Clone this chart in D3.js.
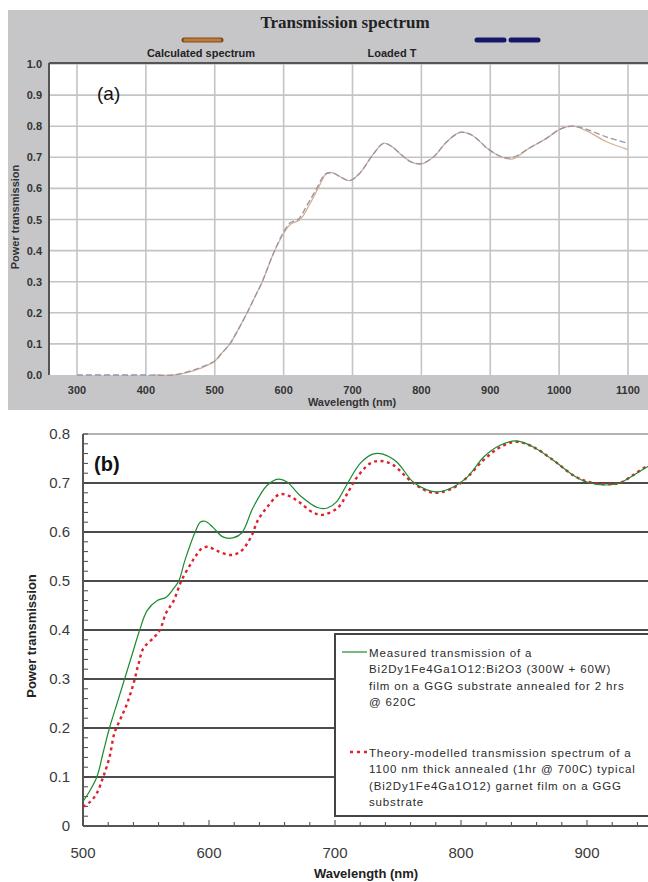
<!DOCTYPE html>
<html>
<head>
<meta charset="utf-8">
<script src="https://cdn.jsdelivr.net/npm/d3@7"></script>
<style>
  html, body { margin: 0; padding: 0; background: #ffffff; }
  svg { display: block; }
</style>
</head>
<body>
<svg id="chart" width="648" height="882"></svg>
<script>
// ---- Panel (a): transmission spectrum, calculated vs loaded ----
const aTitle = "Transmission spectrum";
const aLegend = ["Calculated spectrum", "Loaded T"];
const aXTicks = [300, 400, 500, 600, 700, 800, 900, 1000, 1100];
const aYTicks = [0, 0.1, 0.2, 0.3, 0.4, 0.5, 0.6, 0.7, 0.8, 0.9, 1.0];

const loadedWl = [300, 350, 400, 440, 460, 480, 500, 510, 522, 535, 547, 558, 569, 585, 600, 610, 621, 635, 648, 660, 670, 684, 696, 711, 730, 745, 757, 770, 785, 800, 817, 837, 856, 870, 883, 895, 918, 933, 957, 981, 1001, 1020, 1040, 1069, 1100];
const loadedT  = [0, 0, 0, 0, 0.01, 0.025, 0.045, 0.07, 0.10, 0.15, 0.20, 0.25, 0.30, 0.39, 0.46, 0.49, 0.50, 0.55, 0.60, 0.645, 0.65, 0.635, 0.625, 0.65, 0.71, 0.745, 0.735, 0.71, 0.685, 0.68, 0.70, 0.75, 0.78, 0.775, 0.755, 0.73, 0.70, 0.70, 0.73, 0.76, 0.79, 0.80, 0.79, 0.765, 0.745];

const calcWl = [410, 440, 460, 480, 500, 510, 522, 535, 547, 558, 569, 585, 600, 610, 624, 638, 650, 663, 672, 684, 696, 711, 730, 745, 757, 770, 785, 800, 817, 837, 856, 870, 883, 895, 918, 933, 957, 981, 1001, 1020, 1040, 1069, 1100];
const calcT  = [0, 0, 0.008, 0.022, 0.045, 0.07, 0.10, 0.15, 0.20, 0.25, 0.30, 0.39, 0.455, 0.485, 0.50, 0.55, 0.60, 0.65, 0.65, 0.635, 0.625, 0.65, 0.71, 0.745, 0.735, 0.71, 0.685, 0.678, 0.70, 0.75, 0.78, 0.775, 0.755, 0.73, 0.70, 0.695, 0.73, 0.76, 0.79, 0.80, 0.785, 0.75, 0.725];

// ---- Panel (b): measured vs theory-modelled transmission ----
const bXTicks = [500, 600, 700, 800, 900];
const bYTicks = [0, 0.1, 0.2, 0.3, 0.4, 0.5, 0.6, 0.7, 0.8];
const bYTickLabels = ["0", "0.1", "0.2", "0.3", "0.4", "0.5", "0.6", "0.7", "0.8"];

const measuredWl = [500, 505, 511, 516, 521, 527, 533, 539, 545, 551, 559, 566, 572, 576, 581, 589, 593, 597, 603, 611, 619, 626, 635, 646, 655, 662, 672, 686, 694, 701, 709, 720, 730, 738, 749, 762, 773, 781, 794, 805, 818, 831, 844, 857, 873, 889, 900, 913, 926, 937, 948, 960];
const measuredT  = [0.05, 0.07, 0.10, 0.15, 0.20, 0.25, 0.30, 0.35, 0.40, 0.44, 0.46, 0.467, 0.485, 0.50, 0.543, 0.60, 0.62, 0.622, 0.61, 0.59, 0.588, 0.598, 0.65, 0.695, 0.708, 0.702, 0.675, 0.65, 0.649, 0.661, 0.695, 0.74, 0.759, 0.759, 0.743, 0.702, 0.686, 0.682, 0.692, 0.712, 0.753, 0.777, 0.786, 0.774, 0.747, 0.716, 0.702, 0.696, 0.70, 0.716, 0.733, 0.75];

const theoryWl = [500, 506, 511, 516, 521, 525, 530, 535, 540, 544, 548, 556, 561, 566, 572, 578, 586, 590, 594, 599, 606, 617, 625, 633, 639, 646, 656, 664, 672, 683, 690, 702, 709, 717, 728, 736, 746, 762, 778, 794, 805, 818, 831, 844, 857, 873, 889, 900, 913, 926, 937, 948, 960];
const theoryT  = [0.039, 0.05, 0.067, 0.10, 0.14, 0.19, 0.22, 0.25, 0.29, 0.33, 0.363, 0.384, 0.40, 0.435, 0.46, 0.50, 0.537, 0.553, 0.566, 0.57, 0.562, 0.553, 0.56, 0.588, 0.625, 0.65, 0.677, 0.673, 0.66, 0.639, 0.635, 0.649, 0.675, 0.71, 0.74, 0.745, 0.737, 0.70, 0.68, 0.69, 0.712, 0.747, 0.773, 0.784, 0.774, 0.747, 0.716, 0.703, 0.698, 0.70, 0.717, 0.735, 0.75];

const bLegend = [
  ["Measured transmission of a",
   "Bi2Dy1Fe4Ga1O12:Bi2O3 (300W + 60W)",
   "film on a GGG substrate annealed for 2 hrs",
   "@ 620C"],
  ["Theory-modelled transmission spectrum of a",
   "1100 nm thick annealed (1hr @ 700C) typical",
   "(Bi2Dy1Fe4Ga1O12) garnet film on a GGG",
   "substrate"]
];

const svg = d3.select("#chart");
const W = 648;

// ================= Panel (a) =================
const a = svg.append("g");
a.append("rect").attr("x", 8).attr("y", 10).attr("width", W - 8).attr("height", 400)
  .attr("fill", "#c6c6c9");

const aPlot = { left: 49, top: 63, right: W, bottom: 375 };
a.append("rect").attr("x", aPlot.left).attr("y", aPlot.top)
  .attr("width", aPlot.right - aPlot.left).attr("height", aPlot.bottom - aPlot.top)
  .attr("fill", "#ffffff");

const xA = d3.scaleLinear().domain([300, 1100]).range([77, 628]);
const yA = d3.scaleLinear().domain([0, 1]).range([375, 64]);

// grid
a.append("g").selectAll("line").data(aYTicks.slice(1)).join("line")
  .attr("x1", aPlot.left).attr("x2", aPlot.right)
  .attr("y1", d => yA(d)).attr("y2", d => yA(d))
  .attr("stroke", "#c4c4c4").attr("stroke-width", 1.6);
a.append("g").selectAll("line").data(aXTicks).join("line")
  .attr("x1", d => xA(d)).attr("x2", d => xA(d))
  .attr("y1", aPlot.top).attr("y2", aPlot.bottom)
  .attr("stroke", "#c4c4c4").attr("stroke-width", 1.6);

// frame
a.append("line").attr("x1", aPlot.left).attr("x2", aPlot.right)
  .attr("y1", aPlot.top).attr("y2", aPlot.top).attr("stroke", "#555").attr("stroke-width", 2);
a.append("line").attr("x1", aPlot.left).attr("x2", aPlot.left)
  .attr("y1", aPlot.top).attr("y2", aPlot.bottom).attr("stroke", "#555").attr("stroke-width", 2);

// tick labels
a.append("g").selectAll("text").data(aYTicks).join("text")
  .attr("x", 42).attr("y", d => yA(d) + 4)
  .attr("text-anchor", "end")
  .attr("font-family", "Liberation Sans, Arial, sans-serif")
  .attr("font-weight", "bold").attr("font-size", 11).attr("fill", "#333")
  .text(d => d3.format(".1f")(d));
a.append("g").selectAll("text").data(aXTicks).join("text")
  .attr("x", d => xA(d)).attr("y", 394)
  .attr("text-anchor", "middle")
  .attr("font-family", "Liberation Sans, Arial, sans-serif")
  .attr("font-weight", "bold").attr("font-size", 11).attr("fill", "#333")
  .text(d => d);

a.append("text").attr("x", 352).attr("y", 406).attr("text-anchor", "middle")
  .attr("font-family", "Liberation Sans, Arial, sans-serif")
  .attr("font-weight", "bold").attr("font-size", 11).attr("fill", "#333")
  .text("Wavelength (nm)");
a.append("text").attr("transform", "translate(19,217) rotate(-90)").attr("text-anchor", "middle")
  .attr("font-family", "Liberation Sans, Arial, sans-serif")
  .attr("font-weight", "bold").attr("font-size", 11).attr("fill", "#333")
  .text("Power transmission");

// title and legend
a.append("text").attr("x", 345).attr("y", 28).attr("text-anchor", "middle")
  .attr("font-family", "Liberation Serif, Times New Roman, serif")
  .attr("font-weight", "bold").attr("font-size", 17).attr("fill", "#222")
  .text(aTitle);
a.append("line").attr("x1", 184).attr("x2", 221).attr("y1", 40).attr("y2", 40)
  .attr("stroke", "#7a4a1c").attr("stroke-width", 5).attr("stroke-linecap", "round");
a.append("line").attr("x1", 185).attr("x2", 220).attr("y1", 40).attr("y2", 40)
  .attr("stroke", "#c07a3a").attr("stroke-width", 3).attr("stroke-linecap", "round");
a.append("line").attr("x1", 477).attr("x2", 540).attr("y1", 40).attr("y2", 40)
  .attr("stroke", "#17176a").attr("stroke-width", 5).attr("stroke-linecap", "round")
  .attr("stroke-dasharray", "27,7");
a.append("text").attr("x", 201).attr("y", 57).attr("text-anchor", "middle")
  .attr("font-family", "Liberation Sans, Arial, sans-serif")
  .attr("font-weight", "bold").attr("font-size", 11).attr("fill", "#222")
  .text(aLegend[0]);
a.append("text").attr("x", 392).attr("y", 57).attr("text-anchor", "middle")
  .attr("font-family", "Liberation Sans, Arial, sans-serif")
  .attr("font-weight", "bold").attr("font-size", 11).attr("fill", "#222")
  .text(aLegend[1]);

a.append("text").attr("x", 97).attr("y", 100)
  .attr("font-family", "Liberation Sans, Arial, sans-serif")
  .attr("font-size", 19).attr("fill", "#111")
  .text("(a)");

// spectra
const lineA = d3.line().x(d => xA(d[0])).y(d => yA(d[1])).curve(d3.curveCatmullRom.alpha(0.5));
a.append("path").datum(d3.zip(calcWl, calcT)).attr("d", lineA)
  .attr("fill", "none").attr("stroke", "#d8b28e").attr("stroke-width", 1.3);
a.append("path").datum(d3.zip(loadedWl, loadedT)).attr("d", lineA)
  .attr("fill", "none").attr("stroke", "#9494ae").attr("stroke-width", 1.3)
  .attr("stroke-dasharray", "6,3");

// ================= Panel (b) =================
const b = svg.append("g");
const xB = d3.scaleLinear().domain([500, 1000]).range([83, 713]);
const yB = d3.scaleLinear().domain([0, 0.8]).range([826, 434]);

// horizontal grid
b.append("g").selectAll("line").data(bYTicks.filter(d => d > 0 && d < 0.8)).join("line")
  .attr("x1", xB(500)).attr("x2", W)
  .attr("y1", d => yB(d)).attr("y2", d => yB(d))
  .attr("stroke", "#111").attr("stroke-width", 1.5);
b.append("line").attr("x1", xB(500)).attr("x2", W)
  .attr("y1", yB(0.8)).attr("y2", yB(0.8))
  .attr("stroke", "#999").attr("stroke-width", 1.5);

// minor ticks (inside)
const yMinor = d3.range(0, 0.8001, 0.02);
b.append("g").selectAll("line").data(yMinor).join("line")
  .attr("x1", xB(500)).attr("x2", xB(500) + 5)
  .attr("y1", d => yB(d)).attr("y2", d => yB(d))
  .attr("stroke", "#444").attr("stroke-width", 1);
const xMinor = d3.range(500, 1001, 20);
b.append("g").selectAll("line").data(xMinor).join("line")
  .attr("x1", d => xB(d)).attr("x2", d => xB(d))
  .attr("y1", yB(0)).attr("y2", d => yB(0) - (d % 100 === 0 ? 6 : 4))
  .attr("stroke", "#444").attr("stroke-width", 1);

// axes lines
b.append("line").attr("x1", xB(500)).attr("x2", xB(500))
  .attr("y1", yB(0.8)).attr("y2", yB(0)).attr("stroke", "#555").attr("stroke-width", 2);
b.append("line").attr("x1", xB(500)).attr("x2", W)
  .attr("y1", yB(0)).attr("y2", yB(0)).attr("stroke", "#555").attr("stroke-width", 2);

// tick labels
b.append("g").selectAll("text").data(bYTicks).join("text")
  .attr("x", 70).attr("y", d => yB(d) + 5)
  .attr("text-anchor", "end")
  .attr("font-family", "Liberation Sans, Arial, sans-serif")
  .attr("font-size", 15).attr("fill", "#3a3a3a")
  .text((d, i) => bYTickLabels[i]);
b.append("g").selectAll("text").data(bXTicks).join("text")
  .attr("x", d => xB(d)).attr("y", 858)
  .attr("text-anchor", "middle")
  .attr("font-family", "Liberation Sans, Arial, sans-serif")
  .attr("font-size", 15).attr("fill", "#3a3a3a")
  .text(d => d);

b.append("text").attr("x", 366).attr("y", 878).attr("text-anchor", "middle")
  .attr("font-family", "Liberation Sans, Arial, sans-serif")
  .attr("font-weight", "bold").attr("font-size", 13).attr("fill", "#222")
  .text("Wavelength (nm)");
b.append("text").attr("transform", "translate(36,636) rotate(-90)").attr("text-anchor", "middle")
  .attr("font-family", "Liberation Sans, Arial, sans-serif")
  .attr("font-weight", "bold").attr("font-size", 13).attr("fill", "#222")
  .text("Power transmission");

b.append("text").attr("x", 94).attr("y", 471)
  .attr("font-family", "Liberation Sans, Arial, sans-serif")
  .attr("font-weight", "bold").attr("font-size", 20).attr("fill", "#111")
  .text("(b)");

// curves
const lineB = d3.line().x(d => xB(d[0])).y(d => yB(d[1])).curve(d3.curveCatmullRom.alpha(0.5));
b.append("path").datum(d3.zip(theoryWl, theoryT)).attr("d", lineB)
  .attr("fill", "none").attr("stroke", "#e0202e").attr("stroke-width", 2.4)
  .attr("stroke-dasharray", "3,3.5");
b.append("path").datum(d3.zip(measuredWl, measuredT)).attr("d", lineB)
  .attr("fill", "none").attr("stroke", "#1e8a30").attr("stroke-width", 1.2);

// legend
const lg = b.append("g");
lg.append("rect").attr("x", 335).attr("y", 634).attr("width", 400).attr("height", 182)
  .attr("fill", "#ffffff").attr("stroke", "#444").attr("stroke-width", 2);
lg.append("line").attr("x1", 342).attr("x2", 367).attr("y1", 652).attr("y2", 652)
  .attr("stroke", "#1e8a30").attr("stroke-width", 1.2);
lg.append("line").attr("x1", 350).attr("x2", 369).attr("y1", 752).attr("y2", 752)
  .attr("stroke", "#e0202e").attr("stroke-width", 2.4).attr("stroke-dasharray", "3,4");
const legendBase = [657, 757];
bLegend.forEach((lines, k) => {
  lg.append("g").selectAll("text").data(lines).join("text")
    .attr("x", 369).attr("y", (d, i) => legendBase[k] + i * 16.3)
    .attr("font-family", "Liberation Sans, Arial, sans-serif")
    .attr("font-size", 11.5).attr("letter-spacing", 0.85).attr("fill", "#2a2a2a")
    .text(d => d);
});
</script>
</body>
</html>
